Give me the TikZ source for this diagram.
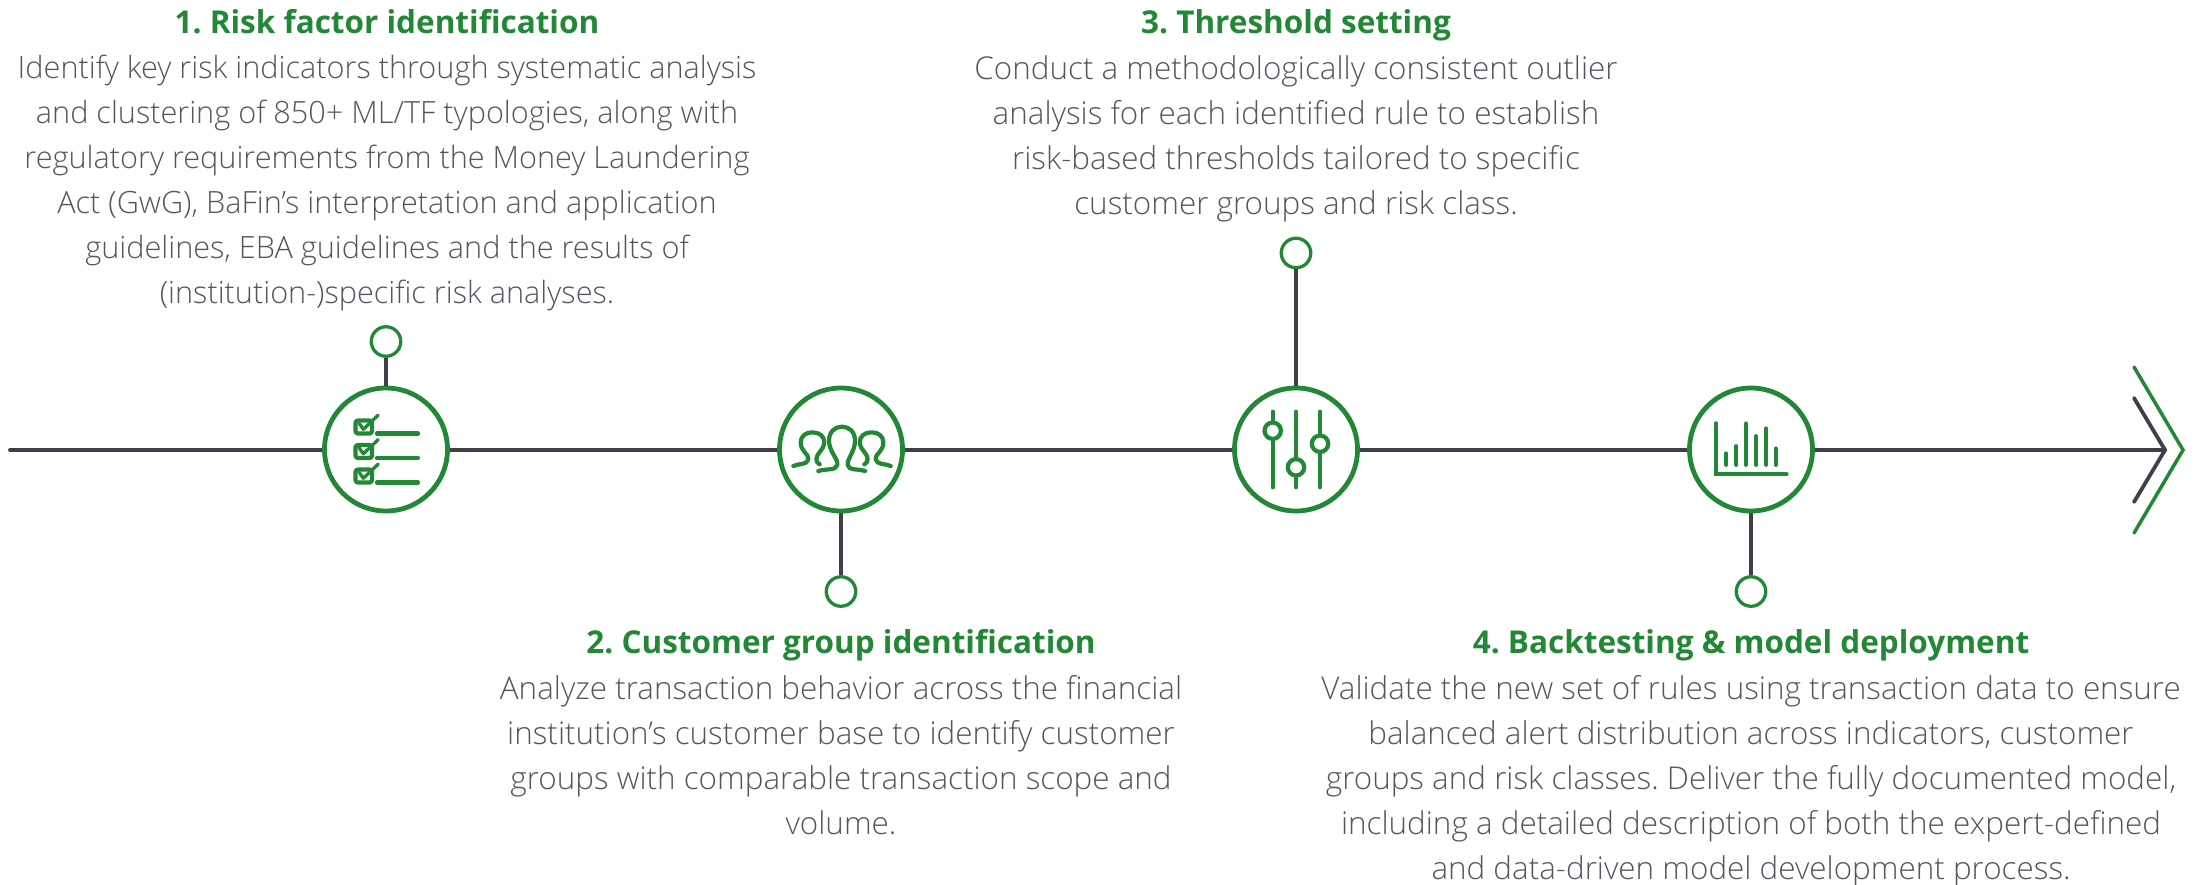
\documentclass[tikz,border=0pt]{standalone}
\usepackage{fontspec}
\setmainfont{Open Sans Light}[BoldFont={Open Sans Bold}]
\frenchspacing
\definecolor{gr}{HTML}{228835}
\definecolor{dk}{HTML}{3F3F4A}
\definecolor{tx}{HTML}{55555F}
\tikzset{
  x=1pt,y=-1pt,
  bigc/.style={circle,draw=gr,line width=4.8pt,fill=white,minimum size=123pt,inner sep=0pt},
  smallc/.style={circle,draw=gr,line width=3.3pt,fill=white,minimum size=29.5pt,inner sep=0pt},
  conn/.style={draw=dk,line width=3.8pt},
  head/.style={text=gr,font=\fontsize{31.5}{36}\selectfont\bfseries,anchor=base,inner sep=0pt},
  body/.style={text=tx,font=\fontsize{31.4}{45}\selectfont,align=center,anchor=north,inner sep=0pt},
  ico/.style={draw=gr,line width=4.2pt,line cap=round,line join=round},
}
\begin{document}
\begin{tikzpicture}
\useasboundingbox (0,0) rectangle (2194,884);
\coordinate (start) at (10,450);
\coordinate (tipd) at (2165,450);
\coordinate (tipg) at (2183,450);
\coordinate (dt) at (2134,398); \coordinate (db) at (2134,502);
\coordinate (gt) at (2134,367); \coordinate (gb) at (2134,533);
\draw[conn,line cap=round] (start) -- (tipd);
\draw[conn,line cap=round,line join=miter] (dt) -- (tipd) -- (db);
\draw[draw=gr,line width=3.5pt,line cap=round,line join=miter] (gt) -- (tipg) -- (gb);
\node[bigc] (c1) at (386,449.5) {};
\node[bigc] (c2) at (841,449.5) {};
\node[bigc] (c3) at (1296,449.5) {};
\node[bigc] (c4) at (1751,449.5) {};
\node[smallc] (s1) at (386,341.5) {};
\node[smallc] (s2) at (841,591.5) {};
\node[smallc] (s3) at (1296,253) {};
\node[smallc] (s4) at (1751,591.5) {};
\draw[conn] (c1) -- (s1);
\draw[conn] (c2) -- (s2);
\draw[conn] (c3) -- (s3);
\draw[conn] (c4) -- (s4);
% icon 1: checklist
\foreach \dy in {0,24.5,49}{
  \begin{scope}[shift={(0,\dy)}]
    \draw[ico,rounded corners=2.5pt] (355.5,420.5) rectangle (372,433.5);
    \draw[ico,line width=3.3pt] (359.3,423.5) -- (363.3,429.3) -- (378.3,415);
    \draw[ico] (377,433.5) -- (418,433.5);
  \end{scope}
}
% icon 2: people
\begin{scope}[shift={(785,410)},scale=1/3]
  \draw[ico] (100,183) .. controls (125,175) and (152,183) .. (157,165) .. controls (161,148) and (132,125) .. (132,92) .. controls (132,65) and (150,50) .. (171,50) .. controls (192,50) and (210,65) .. (210,92) .. controls (210,125) and (185,148) .. (188,165) .. controls (192,183) and (215,175) .. (240,183);
  \draw[ico] (25,168) .. controls (40,160) and (66,166) .. (70,148) .. controls (73,132) and (47,125) .. (47,98) .. controls (47,78) and (62,67) .. (82,67) .. controls (103,67) and (118,78) .. (118,98) .. controls (118,118) and (94,130) .. (94,147) .. controls (94,155) and (98,160) .. (104,163);
  \draw[ico] (317,168) .. controls (302,160) and (276,166) .. (272,148) .. controls (269,132) and (295,125) .. (295,98) .. controls (295,78) and (280,67) .. (260,67) .. controls (239,67) and (224,78) .. (224,98) .. controls (224,118) and (248,130) .. (248,147) .. controls (248,155) and (244,160) .. (238,163);
\end{scope}
% icon 3: sliders
\draw[ico] (1272.7,411.7) -- (1272.7,487.3);
\draw[ico] (1296,411.7) -- (1296,487.3);
\draw[ico] (1320,411.7) -- (1320,487.3);
\draw[ico,fill=white] (1272.7,430.7) circle[radius=8.2];
\draw[ico,fill=white] (1296,467.3) circle[radius=8.2];
\draw[ico,fill=white] (1320,443.7) circle[radius=8.2];
% icon 4: bar chart
\draw[ico,line join=miter] (1716.3,423.3) -- (1716.3,474.3) -- (1786.5,474.3);
\draw[ico,line width=3.8pt] (1726.1,465) -- (1726.1,453.3);
\draw[ico,line width=3.8pt] (1736.3,465) -- (1736.3,446);
\draw[ico,line width=3.8pt] (1746.1,465) -- (1746.1,423.3);
\draw[ico,line width=3.8pt] (1756.3,465) -- (1756.3,436);
\draw[ico,line width=3.8pt] (1766.1,465) -- (1766.1,428.3);
\draw[ico,line width=3.8pt] (1775.9,465) -- (1775.9,448.3);
% texts
\node[head] (h1) at (387,33.5) {1. Risk factor identification};
\node[body,font=\fontsize{30.65}{45}\selectfont] (b1) at (387,55) {Identify key risk indicators through systematic analysis\\and clustering of 850+ ML/TF typologies, along with\\regulatory requirements from the Money Laundering\\Act (GwG), BaFin’s interpretation and application\\guidelines, EBA guidelines and the results of\\(institution-)specific risk analyses.};
\node[head] (h2) at (841,653) {2. Customer group identification};
\node[body] (b2) at (841,675) {Analyze transaction behavior across the financial\\institution’s customer base to identify customer\\groups with comparable transaction scope and\\volume.};
\node[head] (h3) at (1296,33.5) {3. Threshold setting};
\node[body] (b3) at (1296,55) {Conduct a methodologically consistent outlier\\analysis for each identified rule to establish\\risk-based thresholds tailored to specific\\customer groups and risk class.};
\node[head] (h4) at (1751,653) {4. Backtesting \& model deployment};
\node[body] (b4) at (1751,675) {Validate the new set of rules using transaction data to ensure\\balanced alert distribution across indicators, customer\\groups and risk classes. Deliver the fully documented model,\\including a detailed description of both the expert-defined\\and data-driven model development process.};
\end{tikzpicture}
\end{document}
